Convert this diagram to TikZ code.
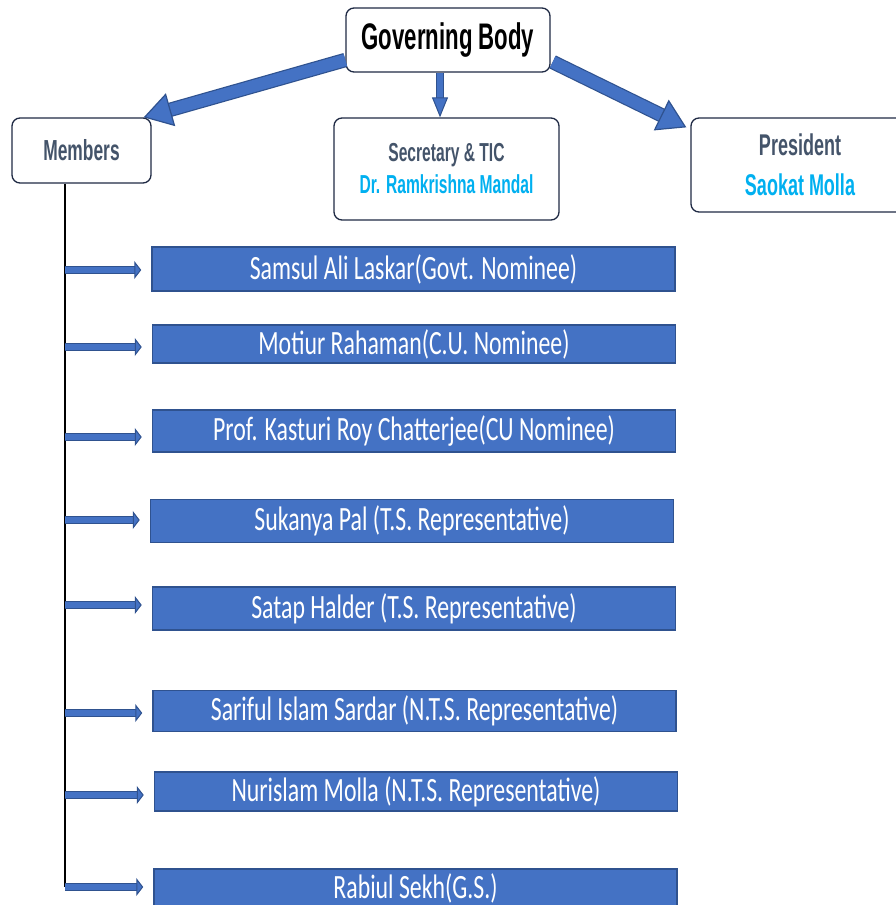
\documentclass[tikz,border=0pt]{standalone}
\usepackage{fontspec}
\usetikzlibrary{arrows.meta}
\newfontfamily\boxfont[FakeStretch=0.6]{Liberation Sans}
\newfontfamily\barfont[FakeStretch=0.7]{Carlito}
\definecolor{barblue}{HTML}{4472C4}
\definecolor{barline}{HTML}{2F528F}
\definecolor{boxline}{HTML}{1F2A44}
\definecolor{slate}{HTML}{44546A}
\definecolor{namecyan}{HTML}{00B0F0}

\begin{document}
\begin{tikzpicture}[x=1pt, y=-1pt,
    box/.style={rectangle, draw=boxline, line width=1.3pt, rounded corners=8pt, fill=white, align=center, font=\boxfont\bfseries},
    bar/.style={rectangle, draw=barline, line width=1.5pt, fill=barblue, minimum width=523pt, inner sep=0pt, text=white, font=\barfont\fontsize{34}{40}\selectfont},
    bigarrow/.style={barblue, line width=12pt, -{Triangle[length=28pt, width=34pt, fill=barblue, color=barline, line width=1.2pt]},
        preaction={draw=barline, line width=14.4pt, shorten >=26pt, -}},
    midarrow/.style={barblue, line width=6pt, -{Triangle[length=20pt, width=16pt, fill=barblue, color=barline, line width=1pt]},
        preaction={draw=barline, line width=8pt, shorten >=18pt, -}},
    memarrow/.style={barblue, line width=6pt, -{Triangle[length=7pt, width=18pt, fill=barblue, color=barline, line width=1pt]},
        preaction={draw=barline, line width=8.4pt, shorten >=5pt, -}}
]
    \useasboundingbox (0,0) rectangle (896,905);

    % Top level
    \node[box, minimum width=204pt, minimum height=64pt, font=\boxfont\bfseries\fontsize{37}{44}\selectfont] (gb) at (448,40) {Governing Body};

    % Second level
    \node[box, minimum width=139pt, minimum height=65pt, text=slate, font=\boxfont\bfseries\fontsize{29}{34}\selectfont] (mem) at (81.5,150.5) {Members};
    \node[box, minimum width=225pt, minimum height=102pt, font=\boxfont\bfseries\fontsize{26}{32}\selectfont] (sec) at (446.5,169)
        {\textcolor{slate}{Secretary \& TIC}\\\textcolor{namecyan}{Dr. Ramkrishna Mandal}};
    \node[box, minimum width=218pt, minimum height=94pt, font=\boxfont\bfseries\fontsize{30}{40}\selectfont] (pres) at (800,165)
        {\textcolor{slate}{President}\\\textcolor{namecyan}{Saokat Molla}};

    % Block arrows
    \draw[bigarrow] ([yshift=-20pt]gb.west) -- ([xshift=-8pt]mem.north east);
    \draw[midarrow] ([xshift=-8pt]gb.south) -- ([xshift=-8pt]gb.south |- sec.north);
    \draw[bigarrow] ([yshift=-22pt, xshift=2pt]gb.east) -- ([xshift=-4pt, yshift=-10pt]pres.north west);

    % Member list
    \node[bar, minimum height=44pt] (m1) at (413.5,269) {Samsul Ali Laskar(Govt. Nominee)};
    \node[bar, minimum height=38pt] (m2) at (414,344) {Motiur Rahaman(C.U. Nominee)};
    \node[bar, minimum height=42pt] (m3) at (414,431) {Prof. Kasturi Roy Chatterjee(CU Nominee)};
    \node[bar, minimum height=43pt] (m4) at (412,521) {Sukanya Pal (T.S. Representative)};
    \node[bar, minimum height=43pt] (m5) at (414,608.5) {Satap Halder (T.S. Representative)};
    \node[bar, minimum height=41pt] (m6) at (414.5,711) {Sariful Islam Sardar (N.T.S. Representative)};
    \node[bar, minimum height=39pt] (m7) at (416,791.5) {Nurislam Molla (N.T.S. Representative)};
    \node[bar, minimum height=38pt] (m8) at (415.5,888) {Rabiul Sekh(G.S.)};

    % Trunk and branches
    \coordinate (top) at ([xshift=-16.5pt]mem.south);
    \coordinate (bot) at (top |- 0,887);
    \draw[line width=1.8pt] (top) -- (bot);
    \foreach \m/\y in {m1/270,m2/347,m3/437,m4/520,m5/605,m6/713,m7/795,m8/887}
        \draw[memarrow] (top |- 0,\y) -- ([xshift=-10pt]\m.west |- 0,\y);
\end{tikzpicture}
\end{document}
